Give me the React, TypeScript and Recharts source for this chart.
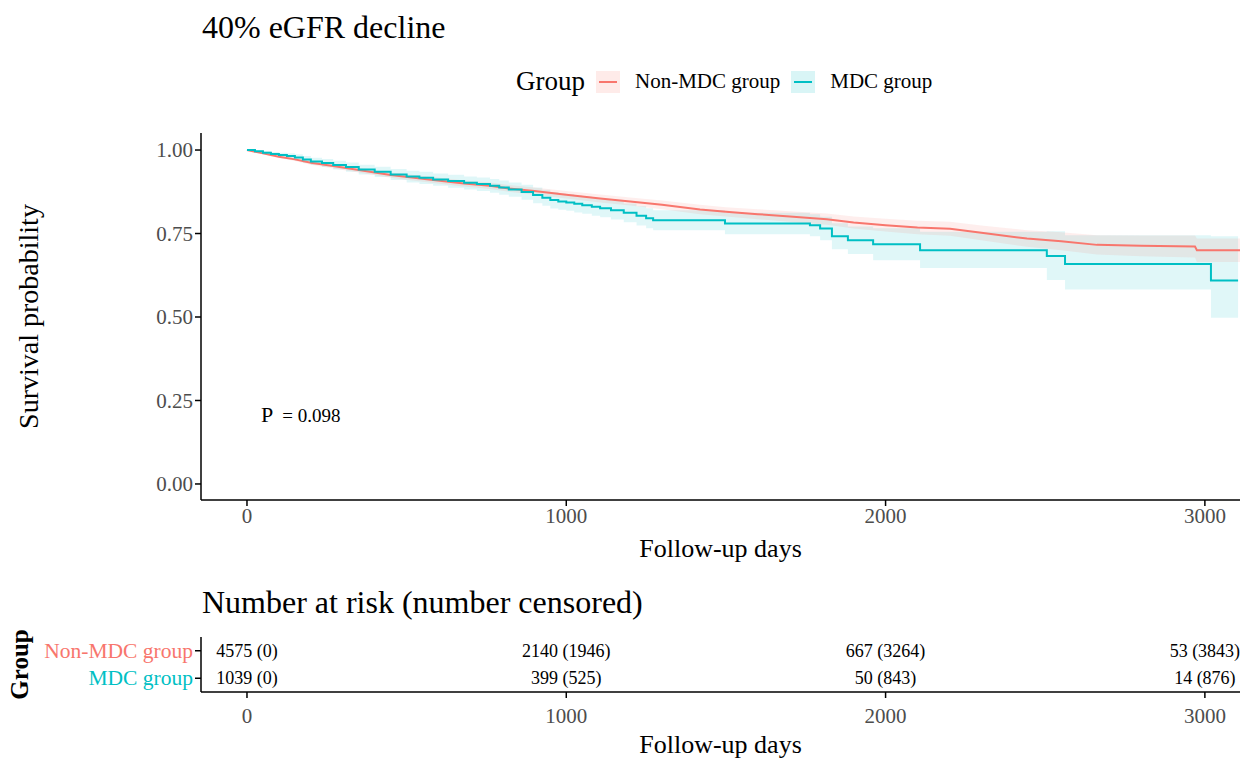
import React from "react";
import {
  ComposedChart,
  ScatterChart,
  Scatter,
  Area,
  Line,
  XAxis,
  YAxis,
  Legend,
  Label,
} from "recharts";

const SERIF = "'Liberation Serif', 'Times New Roman', serif";
const RED = "#F8766D";
const TEAL = "#00BFC4";

// Non-MDC group: points (day, survival, 95% band)
const nonMdcDays = [0, 50, 100, 150, 200, 270, 350, 450, 583, 680, 761, 820, 900, 1000, 1106, 1200, 1300, 1419, 1500, 1600, 1700, 1816, 1900, 2000, 2100, 2202, 2300, 2443, 2550, 2662, 2800, 2969, 2975, 3110];
const nonMdcSurv = [1.0, 0.99, 0.98, 0.972, 0.962, 0.952, 0.94, 0.925, 0.91, 0.9, 0.893, 0.885, 0.877, 0.866, 0.855, 0.846, 0.836, 0.822, 0.815, 0.808, 0.801, 0.793, 0.783, 0.775, 0.768, 0.764, 0.752, 0.735, 0.727, 0.716, 0.713, 0.711, 0.7, 0.7];
const nonMdcLower = [1.0, 0.987, 0.976, 0.967, 0.956, 0.945, 0.933, 0.917, 0.901, 0.891, 0.883, 0.875, 0.866, 0.855, 0.843, 0.834, 0.823, 0.808, 0.801, 0.793, 0.785, 0.776, 0.765, 0.756, 0.748, 0.743, 0.73, 0.71, 0.7, 0.687, 0.682, 0.678, 0.665, 0.665];
const nonMdcUpper = [1.0, 0.993, 0.984, 0.977, 0.968, 0.959, 0.947, 0.933, 0.919, 0.909, 0.903, 0.895, 0.888, 0.877, 0.867, 0.858, 0.849, 0.836, 0.829, 0.823, 0.817, 0.81, 0.801, 0.794, 0.788, 0.785, 0.774, 0.76, 0.754, 0.745, 0.744, 0.744, 0.735, 0.735];

// MDC group (step function)
const mdcDays = [0, 25, 50, 75, 100, 125, 150, 175, 200, 235, 270, 310, 350, 400, 450, 500, 540, 583, 630, 680, 720, 761, 790, 820, 860, 896, 925, 950, 975, 1000, 1025, 1050, 1080, 1106, 1140, 1180, 1220, 1250, 1272, 1497, 1763, 1795, 1832, 1882, 1961, 2108, 2505, 2562, 3019, 3104];
const mdcSurv = [1.0, 0.996, 0.992, 0.988, 0.985, 0.982, 0.978, 0.972, 0.966, 0.961, 0.955, 0.949, 0.942, 0.935, 0.927, 0.921, 0.917, 0.912, 0.907, 0.902, 0.898, 0.893, 0.888, 0.882, 0.874, 0.865, 0.857, 0.85, 0.846, 0.843, 0.839, 0.835, 0.83, 0.826, 0.82, 0.812, 0.803, 0.796, 0.79, 0.78, 0.775, 0.765, 0.742, 0.73, 0.718, 0.7, 0.683, 0.659, 0.609, 0.609];
const mdcLower = [1.0, 0.993, 0.987, 0.982, 0.977, 0.973, 0.968, 0.961, 0.955, 0.949, 0.942, 0.935, 0.927, 0.919, 0.91, 0.903, 0.898, 0.893, 0.887, 0.882, 0.877, 0.872, 0.866, 0.86, 0.851, 0.841, 0.833, 0.825, 0.821, 0.818, 0.813, 0.809, 0.803, 0.799, 0.792, 0.784, 0.774, 0.766, 0.76, 0.748, 0.742, 0.73, 0.703, 0.689, 0.67, 0.647, 0.611, 0.582, 0.498, 0.498];
const mdcUpper = [1.0, 0.999, 0.997, 0.994, 0.992, 0.99, 0.987, 0.982, 0.977, 0.973, 0.968, 0.963, 0.956, 0.95, 0.943, 0.938, 0.935, 0.93, 0.926, 0.921, 0.918, 0.913, 0.909, 0.903, 0.896, 0.888, 0.881, 0.874, 0.87, 0.868, 0.864, 0.861, 0.856, 0.853, 0.848, 0.84, 0.832, 0.826, 0.82, 0.812, 0.808, 0.8, 0.781, 0.771, 0.766, 0.755, 0.757, 0.745, 0.742, 0.742];

// number at risk table
const riskDays = [0, 1000, 2000, 3000];
const nonMdcAtRisk = [4575, 2140, 667, 53];
const nonMdcCensored = [0, 1946, 3264, 3843];
const mdcAtRisk = [1039, 399, 50, 14];
const mdcCensored = [0, 525, 843, 876];

const xTicks = [0, 1000, 2000, 3000];
const yTicks = [0, 0.25, 0.5, 0.75, 1.0];
const X_DOMAIN = [-144, 3110];

const buildSeries = (days: number[], surv: number[], lo: number[], hi: number[]) =>
  days.map((d, i) => ({ day: d, surv: surv[i], band: [lo[i], hi[i]] }));

const nonMdcData = buildSeries(nonMdcDays, nonMdcSurv, nonMdcLower, nonMdcUpper);
const mdcData = buildSeries(mdcDays, mdcSurv, mdcLower, mdcUpper);

const riskRows = [
  ...riskDays.map((d, i) => ({ day: d, row: 1, text: `${nonMdcAtRisk[i]} (${nonMdcCensored[i]})` })),
  ...riskDays.map((d, i) => ({ day: d, row: 0, text: `${mdcAtRisk[i]} (${mdcCensored[i]})` })),
];

const tickStyle = { fill: "#4d4d4d", fontSize: 21, fontFamily: SERIF };
const axisLine = { stroke: "#000", strokeWidth: 1.5 };

function LegendBox() {
  const swatch = (c: string) => (
    <svg width={24} height={22} style={{ margin: "0 15px 0 11px" }}>
      <rect x={0} y={0} width={24} height={22} fill={c} fillOpacity={0.15} />
      <line x1={3} x2={21} y1={11} y2={11} stroke={c} strokeWidth={2} />
    </svg>
  );
  return (
    <div style={{ display: "flex", alignItems: "center", fontFamily: SERIF, color: "#000", whiteSpace: "nowrap" }}>
      <span style={{ fontSize: 27 }}>Group</span>
      {swatch(RED)}
      <span style={{ fontSize: 21 }}>Non-MDC group</span>
      {swatch(TEAL)}
      <span style={{ fontSize: 21 }}>MDC group</span>
    </div>
  );
}

const GroupTick = (props: any) => {
  const { x, y, payload } = props;
  const isNon = payload.value === 1;
  return (
    <text x={x} y={y} textAnchor="end" dominantBaseline="central" fontFamily={SERIF} fontSize={21.5} fill={isNon ? RED : TEAL}>
      {isNon ? "Non-MDC group" : "MDC group"}
    </text>
  );
};

const RiskText = (props: any) => {
  const { cx, cy, payload } = props;
  return (
    <text x={cx} y={cy} textAnchor="middle" dominantBaseline="central" fontFamily={SERIF} fontSize={18} fill="#000">
      {payload.text}
    </text>
  );
};

export default function App() {
  return (
    <div style={{ position: "absolute", left: 0, top: 0, width: 1252, height: 759, background: "#fff", fontFamily: SERIF }}>
      <div style={{ position: "absolute", left: 202, top: 9, fontSize: 32, whiteSpace: "nowrap" }}>40% eGFR decline</div>

      <div style={{ position: "absolute", left: 0, top: 0 }}>
        <ComposedChart width={1252} height={580} margin={{ top: 133, right: 12, bottom: 10, left: 11 }}>
          <XAxis
            type="number"
            dataKey="day"
            domain={X_DOMAIN}
            ticks={xTicks}
            allowDataOverflow
            height={70}
            tick={tickStyle}
            tickSize={6}
            axisLine={axisLine}
            tickLine={axisLine}
          >
            <Label value="Follow-up days" position="insideBottom" offset={13} style={{ fontSize: 26, fontFamily: SERIF, fill: "#000" }} />
          </XAxis>
          <YAxis
            type="number"
            domain={[-0.048, 1.051]}
            ticks={yTicks}
            allowDataOverflow
            width={190}
            tick={tickStyle}
            tickSize={6}
            tickFormatter={(v: number) => v.toFixed(2)}
            axisLine={axisLine}
            tickLine={axisLine}
          >
            <Label value="Survival probability" angle={-90} position="insideLeft" offset={17} style={{ fontSize: 28, fontFamily: SERIF, fill: "#000", textAnchor: "middle" }} />
          </YAxis>
          <Legend
            verticalAlign="middle"
            align="center"
            content={() => <LegendBox />}
            wrapperStyle={{ top: 66, left: 516, width: "auto" }}
          />
          <Area data={mdcData} dataKey="band" type="stepAfter" stroke="none" fill={TEAL} fillOpacity={0.12} isAnimationActive={false} activeDot={false} />
          <Area data={nonMdcData} dataKey="band" type="linear" stroke="none" fill={RED} fillOpacity={0.12} isAnimationActive={false} activeDot={false} />
          <Line data={nonMdcData} dataKey="surv" type="linear" stroke={RED} strokeWidth={2} dot={false} activeDot={false} isAnimationActive={false} />
          <Line data={mdcData} dataKey="surv" type="stepAfter" stroke={TEAL} strokeWidth={2} dot={false} activeDot={false} isAnimationActive={false} />
        </ComposedChart>
      </div>

      <div style={{ position: "absolute", left: 261, top: 402, whiteSpace: "nowrap", color: "#000" }}>
        <span style={{ fontSize: 22 }}>P</span>
        <span style={{ fontSize: 19, marginLeft: 9 }}>= 0.098</span>
      </div>

      <div style={{ position: "absolute", left: 202, top: 584, fontSize: 32, whiteSpace: "nowrap" }}>Number at risk (number censored)</div>

      <div style={{ position: "absolute", left: 0, top: 580 }}>
        <ScatterChart width={1252} height={179} margin={{ top: 57, right: 12, bottom: 5, left: 11 }}>
          <XAxis
            type="number"
            dataKey="day"
            domain={X_DOMAIN}
            ticks={xTicks}
            allowDataOverflow
            height={62}
            tick={tickStyle}
            tickSize={6}
            tickMargin={10}
            axisLine={axisLine}
            tickLine={axisLine}
          >
            <Label value="Follow-up days" position="insideBottom" offset={1} style={{ fontSize: 26, fontFamily: SERIF, fill: "#000" }} />
          </XAxis>
          <YAxis
            type="number"
            dataKey="row"
            domain={[-0.5, 1.5]}
            ticks={[0, 1]}
            width={190}
            tick={<GroupTick />}
            tickSize={6}
            axisLine={axisLine}
            tickLine={axisLine}
          >
            <Label value="Group" angle={-90} position="insideLeft" offset={8} style={{ fontSize: 25, fontWeight: "bold", fontFamily: SERIF, fill: "#000", textAnchor: "middle" }} />
          </YAxis>
          <Scatter data={riskRows} shape={<RiskText />} isAnimationActive={false} />
        </ScatterChart>
      </div>
    </div>
  );
}
